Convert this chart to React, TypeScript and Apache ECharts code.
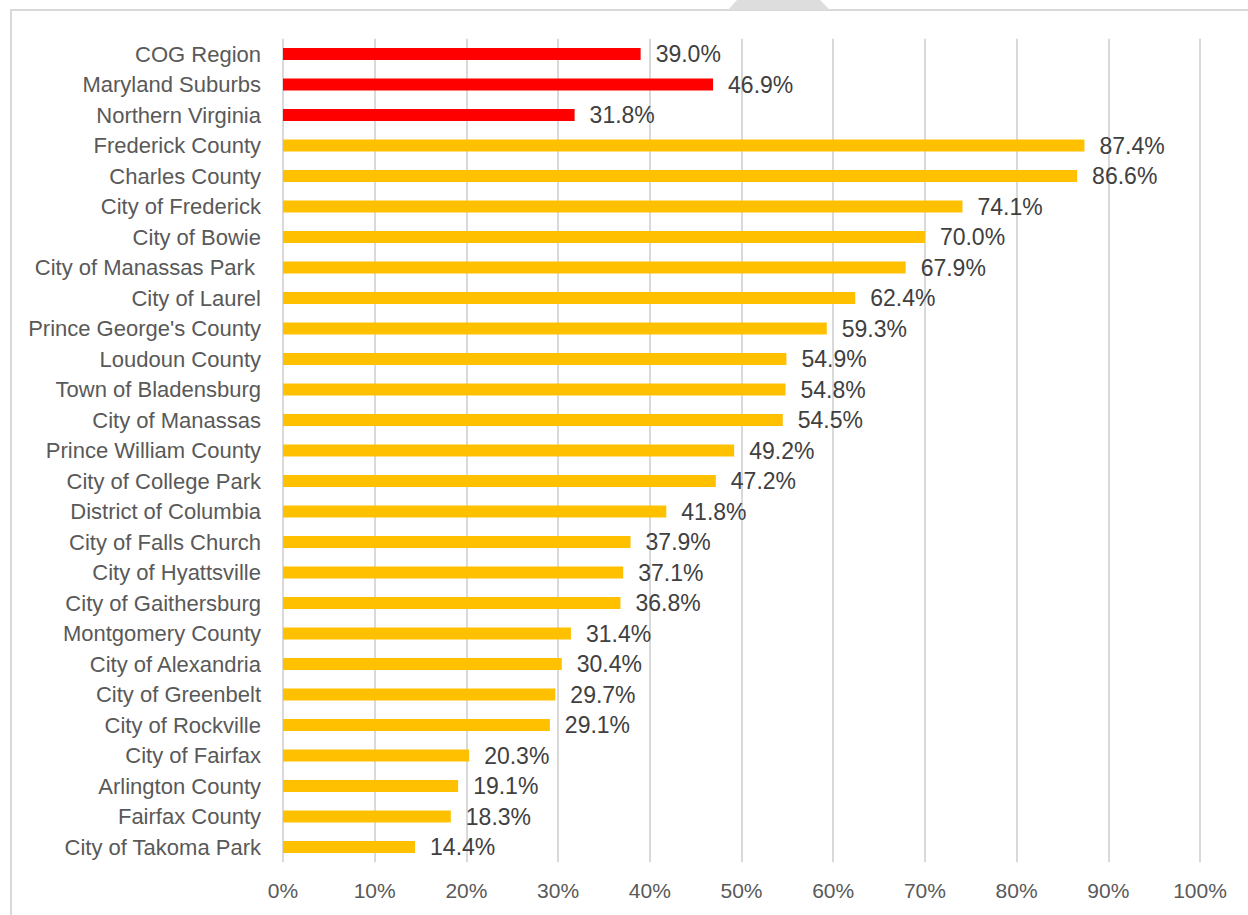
import React, { useEffect, useRef } from "react";
import * as echarts from "echarts";

const categories = [
  "COG Region",
  "Maryland Suburbs",
  "Northern Virginia",
  "Frederick County",
  "Charles County",
  "City of Frederick",
  "City of Bowie",
  "City of Manassas Park ",
  "City of Laurel",
  "Prince George's County",
  "Loudoun County",
  "Town of Bladensburg",
  "City of Manassas",
  "Prince William County",
  "City of College Park",
  "District of Columbia",
  "City of Falls Church",
  "City of Hyattsville",
  "City of Gaithersburg",
  "Montgomery County",
  "City of Alexandria",
  "City of Greenbelt",
  "City of Rockville",
  "City of Fairfax",
  "Arlington County",
  "Fairfax County",
  "City of Takoma Park",
];

const values = [
  39.0, 46.9, 31.8, 87.4, 86.6, 74.1, 70.0, 67.9, 62.4, 59.3, 54.9, 54.8, 54.5,
  49.2, 47.2, 41.8, 37.9, 37.1, 36.8, 31.4, 30.4, 29.7, 29.1, 20.3, 19.1, 18.3,
  14.4,
];

// true = regional aggregate (red), false = jurisdiction (gold)
const isRegion = [
  true, true, true, false, false, false, false, false, false, false, false,
  false, false, false, false, false, false, false, false, false, false, false,
  false, false, false, false, false,
];

const tickLabels = ["0%", "10%", "20%", "30%", "40%", "50%", "60%", "70%", "80%", "90%", "100%"];

const FONT = "'Liberation Sans', Arial, sans-serif";

export default function App() {
  const ref = useRef<HTMLDivElement>(null);

  useEffect(() => {
    if (!ref.current) return;
    const chart = echarts.init(ref.current, undefined, { renderer: "svg" });
    chart.setOption({
      animation: false,
      backgroundColor: "#ffffff",
      textStyle: { fontFamily: FONT },
      graphic: [
        {
          type: "rect",
          shape: { x: 11, y: 10, width: 1300, height: 1000 },
          style: { fill: "none", stroke: "#d9d9d9", lineWidth: 2 },
          silent: true,
        },
        {
          type: "polygon",
          shape: { points: [[737, 0], [820, 0], [830, 10], [728, 10]] },
          style: { fill: "#dddddd" },
          silent: true,
        },
      ],
      grid: { left: 283, right: 48, top: 38.75, bottom: 52.75, containLabel: false },
      xAxis: {
        type: "value",
        min: 0,
        max: 100,
        interval: 10,
        axisLine: { show: false },
        axisTick: { show: false },
        splitLine: { show: true, lineStyle: { color: "#d9d9d9", width: 2 } },
        axisLabel: {
          formatter: (v: number) => tickLabels[Math.round(v / 10)],
          color: "#595959",
          fontSize: 21,
          fontFamily: FONT,
          margin: 18,
        },
      },
      yAxis: {
        type: "category",
        data: categories,
        inverse: true,
        axisLine: { show: false },
        axisTick: { show: false },
        axisLabel: {
          color: "#595959",
          fontSize: 22,
          fontFamily: FONT,
          margin: 22,
        },
      },
      series: [
        {
          type: "bar",
          barWidth: 12,
          data: values.map((v, i) => ({
            value: v,
            itemStyle: { color: isRegion[i] ? "#ff0000" : "#ffc000" },
          })),
          label: {
            show: true,
            position: "right",
            distance: 15,
            color: "#404040",
            fontSize: 23,
            fontFamily: FONT,
            formatter: (p: any) => p.value.toFixed(1) + "%",
          },
        },
      ],
    });
    return () => chart.dispose();
  }, []);

  return (
    <div
      ref={ref}
      style={{ position: "absolute", left: 0, top: 0, width: 1248, height: 915 }}
    />
  );
}
